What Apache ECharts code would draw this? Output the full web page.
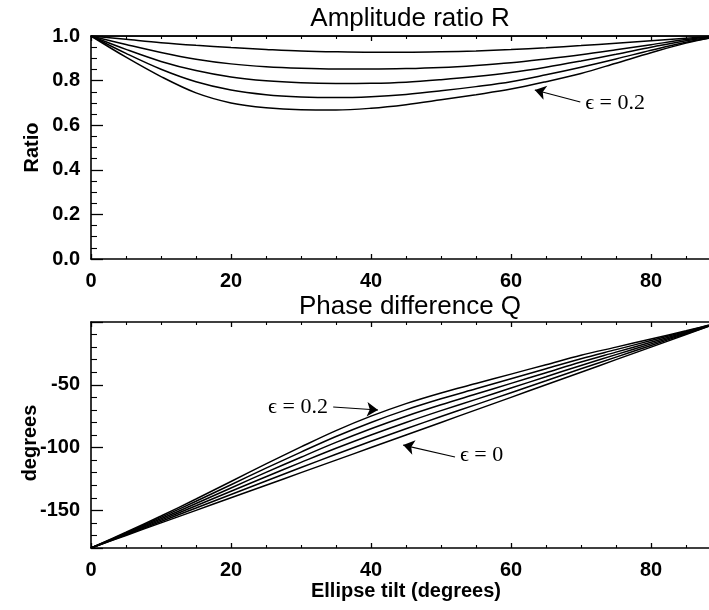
<!DOCTYPE html>
<html><head><meta charset="utf-8">
<script src="https://cdn.jsdelivr.net/npm/echarts@6/dist/echarts.min.js"></script>
<style>html,body{margin:0;padding:0;background:#fff}#c{width:709px;height:610px}</style>
</head><body><div id="c"></div>
<script>
// Ellipse tilt (degrees)
const tilt = [0,5,10,15,20,25,30,35,40,45,50,55,60,65,70,75,80,85,90];
// Amplitude ratio R for eps = 0, 0.04, 0.08, 0.12, 0.16, 0.2
const R_e000 = [1,1,1,1,1,1,1,1,1,1,1,1,1,1,1,1,1,1,1];
const R_e004 = [1.0,0.985,0.970,0.958,0.948,0.940,0.933,0.929,0.927,0.927,0.929,0.933,0.939,0.947,0.957,0.968,0.979,0.990,1.0];
const R_e008 = [1.0,0.962,0.926,0.896,0.875,0.862,0.855,0.852,0.852,0.854,0.859,0.868,0.880,0.897,0.916,0.938,0.961,0.984,1.0];
const R_e012 = [1.0,0.940,0.886,0.845,0.816,0.799,0.790,0.787,0.788,0.793,0.804,0.818,0.836,0.860,0.888,0.918,0.950,0.979,1.0];
const R_e016 = [1.0,0.922,0.851,0.795,0.758,0.737,0.727,0.724,0.728,0.738,0.754,0.773,0.795,0.826,0.860,0.897,0.936,0.972,1.0];
const R_e020 = [1.0,0.905,0.818,0.745,0.700,0.678,0.669,0.668,0.676,0.692,0.714,0.737,0.762,0.795,0.832,0.878,0.925,0.968,1.0];
// Phase difference Q (degrees)
const Q_e000 = [-180,-170,-160,-150,-140,-130,-120,-110,-100,-90,-80,-70,-60,-50,-40,-30,-20,-10,0];
const Q_e004 = [-180,-169.5,-158.9,-148.2,-137.4,-126.6,-115.9,-105.3,-95,-85,-75.3,-65.8,-56.3,-46.8,-37.3,-28,-18.7,-9.4,0];
const Q_e008 = [-180,-169,-157.8,-146.4,-134.8,-123.2,-111.8,-100.6,-90,-80,-70.6,-61.6,-52.6,-43.6,-34.6,-26,-17.4,-8.8,0];
const Q_e012 = [-180,-168.5,-156.7,-144.6,-132.2,-119.8,-107.7,-95.9,-85,-75,-65.9,-57.4,-48.9,-40.4,-31.9,-24,-16.1,-8.2,0];
const Q_e016 = [-180,-168,-155.6,-142.8,-129.6,-116.4,-103.6,-91.2,-80,-70,-61.2,-53.2,-45.2,-37.2,-29.2,-22,-14.8,-7.6,0];
const Q_e020 = [-180,-167.5,-154.5,-141,-127,-113,-99.5,-86.5,-75,-65,-56.5,-49,-41.5,-34,-26.5,-20,-13.5,-7,0];
// annotations
const annTopText = {label:'\u03f5 = 0.2', at:[70.6, 0.70]};
const annTopArrow = [[69.9, 0.704],[63.4, 0.758]];
const annBot1Text = {label:'\u03f5 = 0.2', at:[25.3, -67.7]};
const annBot1Arrow = [[34.6, -67.7],[41.0, -70.1]];
const annBot2Text = {label:'\u03f5 = 0', at:[52.7, -105.9]};
const annBot2Arrow = [[52.0, -107.5],[44.6, -98.0]];

const chart = echarts.init(document.getElementById('c'), null, {renderer:'canvas'});
const black = '#000';
const sans = 'Liberation Sans, Arial, Helvetica, sans-serif';
const serif = 'Liberation Serif, DejaVu Serif, Times New Roman, serif';

function xAx(grid, pos, labels, name) {
  return {
    type:'value', gridIndex:grid, position:pos, min:0, max:90, interval:20,
    axisLine:{show:true, onZero:false, lineStyle:{color:black, width:1.6}},
    axisTick:{show:true, inside:true, length:5, lineStyle:{color:black, width:1.3}},
    minorTick:{show:true, splitNumber:4, length:3, lineStyle:{color:black, width:1.1}},
    splitLine:{show:false}, minorSplitLine:{show:false},
    axisLabel:{show:labels, margin:12, color:black, fontFamily:sans, fontWeight:'bold', fontSize:20,
      formatter:v => (v === 90 ? '' : String(v))},
    name: name || '', nameLocation:'middle', nameGap:33, nameMoveOverlap:false,
    nameTextStyle:{color:black, fontFamily:sans, fontWeight:'bold', fontSize:20}
  };
}
function yAx(grid, pos, labels, cfg) {
  return Object.assign({
    type:'value', gridIndex:grid, position:pos,
    axisLine:{show:true, onZero:false, lineStyle:{color:black, width:1.6}},
    axisTick:{show:true, inside:true, length:12, lineStyle:{color:black, width:1.3}},
    splitLine:{show:false}, minorSplitLine:{show:false},
    nameLocation:'middle', nameMoveOverlap:false
  }, cfg, {
    nameTextStyle: Object.assign({color:black, fontFamily:sans, fontWeight:'bold', fontSize:20}, cfg.nameTextStyle || {}),
    axisLabel: Object.assign({show:labels, margin:11, color:black, fontFamily:sans, fontWeight:'bold', fontSize:20}, cfg.axisLabel || {}),
    minorTick: Object.assign({show:true, length:6, lineStyle:{color:black, width:1.1}}, cfg.minorTick || {})
  });
}
const yTopCfg = {min:0, max:1, interval:0.2, minorTick:{splitNumber:4},
  axisLabel:{formatter:v => v.toFixed(1)}};
const yBotCfg = {min:-180, max:0, minInterval:50, maxInterval:50, splitNumber:4, minorTick:{splitNumber:5},
  axisLabel:{formatter:v => (v === -180 || v === 0 ? '' : String(v))}};

function line(name, xs, ys, xi, yi, extra) {
  return Object.assign({
    name, type:'line', xAxisIndex:xi, yAxisIndex:yi,
    data: xs.map((x, i) => [x, ys[i]]),
    showSymbol:false, smooth:0.35, clip:true, silent:true,
    lineStyle:{color:black, width:1.5}, itemStyle:{color:black}
  }, extra || {});
}
function annot(text, arrow) {
  return {
    markLine:{silent:true, symbol:['none','arrow'], symbolSize:11, animation:false,
      lineStyle:{color:black, width:1.2, type:'solid'}, itemStyle:{color:black}, label:{show:false},
      data:[[{coord:arrow[0]},{coord:arrow[1]}]]},
    markPoint:{silent:true, symbol:'circle', symbolSize:0, animation:false,
      label:{show:true, position:'right', distance:0, color:black, fontFamily:serif, fontSize:22,
        formatter:text.label},
      data:[{coord:text.at}]}
  };
}

const option = {
  backgroundColor:'#fff',
  animation:false,
  title:[
    {text:'Amplitude ratio R', left:405, top:1, textAlign:'center',
     textStyle:{color:black, fontFamily:sans, fontWeight:'normal', fontSize:26}},
    {text:'Phase difference Q', left:405, top:289, textAlign:'center',
     textStyle:{color:black, fontFamily:sans, fontWeight:'normal', fontSize:26}}
  ],
  grid:[
    {left:91, width:630, top:36, height:223, outerBoundsMode:'none', containLabel:false},
    {left:91, width:630, top:322, height:226, outerBoundsMode:'none', containLabel:false}
  ],
  xAxis:[
    xAx(0,'bottom',true), xAx(0,'top',false),
    xAx(1,'bottom',true,'Ellipse tilt (degrees)'), xAx(1,'top',false)
  ],
  yAxis:[
    yAx(0,'left',true, Object.assign({name:'Ratio', nameGap:49}, yTopCfg)),
    yAx(0,'right',false, yTopCfg),
    yAx(1,'left',true, Object.assign({name:'degrees', nameGap:51, nameTextStyle:{padding:[0,16,0,0]}}, yBotCfg)),
    yAx(1,'right',false, yBotCfg)
  ],
  series:[
    line('R0', tilt, R_e000, 0, 0),
    line('R1', tilt, R_e004, 0, 0),
    line('R2', tilt, R_e008, 0, 0),
    line('R3', tilt, R_e012, 0, 0),
    line('R4', tilt, R_e016, 0, 0),
    line('R5', tilt, R_e020, 0, 0, annot(annTopText, annTopArrow)),
    line('Q0', tilt, Q_e000, 2, 2, annot(annBot2Text, annBot2Arrow)),
    line('Q1', tilt, Q_e004, 2, 2),
    line('Q2', tilt, Q_e008, 2, 2),
    line('Q3', tilt, Q_e012, 2, 2),
    line('Q4', tilt, Q_e016, 2, 2),
    line('Q5', tilt, Q_e020, 2, 2, annot(annBot1Text, annBot1Arrow))
  ]
};
chart.setOption(option);
</script></body></html>
